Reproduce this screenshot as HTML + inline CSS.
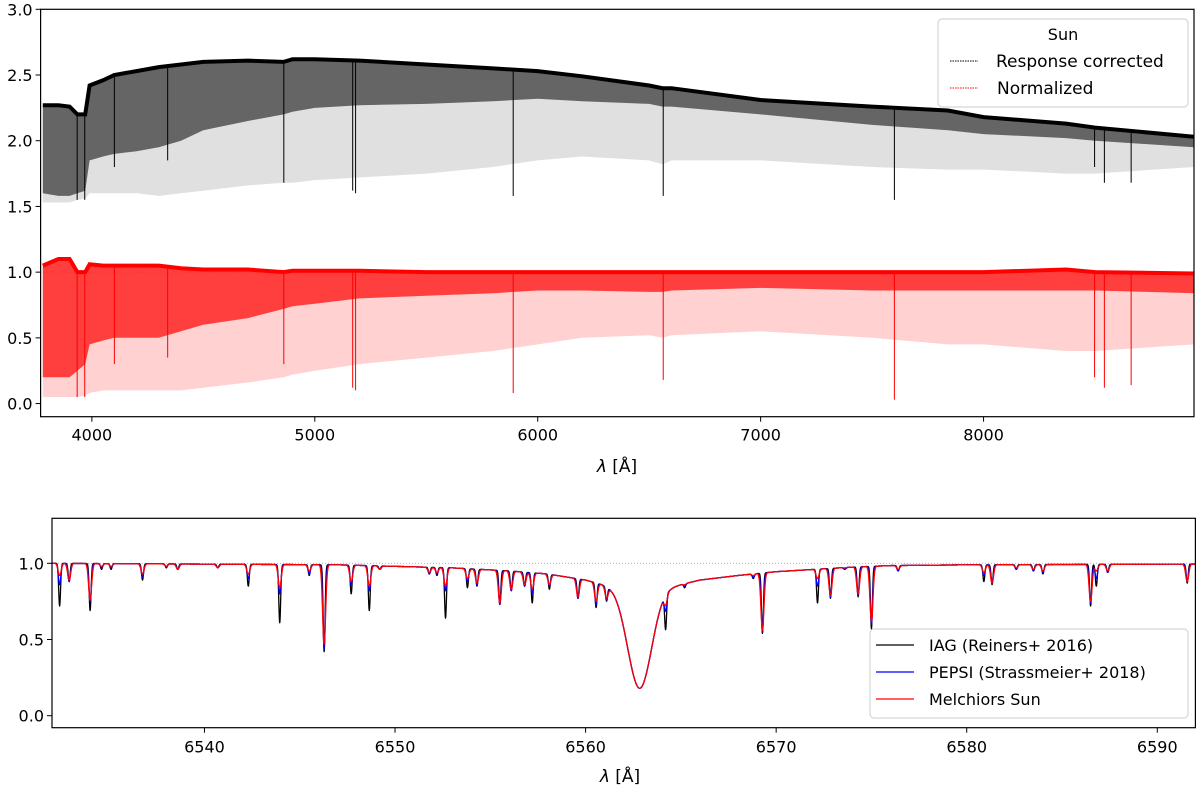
<!DOCTYPE html>
<html><head><meta charset="utf-8"><style>
html,body{margin:0;padding:0;background:#fff}
svg{display:block;font-family:"DejaVu Sans","Liberation Sans",sans-serif}
</style></head><body>
<svg id="fig" width="1200" height="787" viewBox="0 0 1200 787" xmlns="http://www.w3.org/2000/svg">
<rect width="1200" height="787" fill="#fff"/>
<g id="topPanel"></g>
<g id="botPanel"></g>
<text x="617" y="472" font-size="17" text-anchor="middle"><tspan font-style="italic">λ</tspan> [Å]</text>
<text x="620" y="782" font-size="17" text-anchor="middle"><tspan font-style="italic">λ</tspan> [Å]</text>
<g>
  <rect x="938" y="19" width="250" height="88" rx="4" fill="#fff" fill-opacity="0.85" stroke="#ccc"/>
  <text x="1063" y="40" font-size="16" text-anchor="middle">Sun</text>
  <line x1="950" y1="61" x2="978" y2="61" stroke="#000" stroke-width="1" stroke-dasharray="1.5,1"/>
  <text x="996" y="67" font-size="17">Response corrected</text>
  <line x1="950" y1="88" x2="978" y2="88" stroke="#f00" stroke-width="1" stroke-dasharray="1.5,1"/>
  <text x="997" y="94" font-size="17">Normalized</text>
</g>
<g>
  <rect x="870" y="629" width="318" height="89" rx="4" fill="#fff" fill-opacity="0.85" stroke="#ccc"/>
  <line x1="876" y1="645" x2="914" y2="645" stroke="#000" stroke-width="1.3"/>
  <text x="929" y="651" font-size="16">IAG (Reiners+ 2016)</text>
  <line x1="876" y1="672" x2="914" y2="672" stroke="#00f" stroke-width="1.3"/>
  <text x="929" y="678" font-size="16">PEPSI (Strassmeier+ 2018)</text>
  <line x1="876" y1="699" x2="914" y2="699" stroke="#f00" stroke-width="1.3"/>
  <text x="929" y="705" font-size="16">Melchiors Sun</text>
</g>
</svg>
<script>
// ---------- TOP PANEL DATA ----------
const topWl      = [3780,3850,3900,3935,3970,3990,4050,4100,4200,4300,4400,4500,4700,4860,4900,5000,5200,5500,5800,6000,6200,6500,6560,6600,7000,7500,7840,8000,8370,8500,8944];
const rcUpper    = [2.27,2.27,2.26,2.2,2.2,2.42,2.46,2.5,2.53,2.56,2.58,2.6,2.61,2.6,2.62,2.62,2.61,2.58,2.55,2.53,2.49,2.42,2.40,2.40,2.31,2.26,2.23,2.18,2.13,2.1,2.03];
const rcDense    = [1.6,1.58,1.58,1.6,1.62,1.85,1.88,1.9,1.92,1.95,2.0,2.08,2.15,2.2,2.22,2.25,2.27,2.28,2.3,2.32,2.3,2.28,2.26,2.26,2.2,2.12,2.08,2.05,2.02,2.0,1.95];
const rcSparse   = [1.53,1.53,1.53,1.55,1.56,1.6,1.6,1.6,1.6,1.58,1.6,1.62,1.66,1.68,1.68,1.7,1.72,1.75,1.8,1.85,1.88,1.85,1.82,1.85,1.85,1.8,1.78,1.78,1.75,1.75,1.8];
const nUpper     = [1.05,1.1,1.1,1.0,1.0,1.06,1.05,1.05,1.05,1.05,1.03,1.02,1.02,1.0,1.01,1.01,1.01,1.0,1.0,1.0,1.0,1.0,1.0,1.0,1.0,1.0,1.0,1.0,1.02,1.0,0.99];
const nDense     = [0.2,0.2,0.2,0.25,0.3,0.45,0.48,0.5,0.5,0.5,0.55,0.6,0.65,0.72,0.74,0.76,0.8,0.82,0.84,0.86,0.86,0.85,0.85,0.86,0.88,0.86,0.86,0.86,0.86,0.86,0.84];
const nSparse    = [0.05,0.05,0.05,0.05,0.06,0.08,0.1,0.1,0.1,0.1,0.1,0.12,0.16,0.2,0.22,0.25,0.3,0.35,0.4,0.45,0.5,0.52,0.5,0.52,0.55,0.5,0.45,0.45,0.4,0.4,0.45];
const deepWl     = [3934,3968,4101,4340,4861,5170,5183,5890,6563,7600,8498,8542,8662];
const deepRcMin  = [1.55,1.55,1.8,1.85,1.68,1.62,1.6,1.58,1.58,1.55,1.8,1.68,1.68];
const deepNMin   = [0.05,0.05,0.3,0.35,0.3,0.12,0.1,0.08,0.18,0.03,0.2,0.12,0.14];
const topXTicks  = [4000,5000,6000,7000,8000];
const topYTicks  = [0.0,0.5,1.0,1.5,2.0,2.5,3.0];

// ---------- BOTTOM PANEL DATA ----------
const lineCenters = [6532.4,6532.9,6534.0,6534.6,6535.1,6536.75,6538.0,6538.6,6540.7,6542.3,6543.95,6545.5,6546.28,6547.7,6548.65,6549.2,6551.8,6552.2,6552.65,6553.8,6554.3,6555.5,6556.1,6556.8,6557.2,6558.1,6559.6,6560.55,6561.1,6564.2,6565.2,6568.8,6569.28,6570.7,6572.17,6572.85,6573.6,6574.3,6575.0,6576.4,6580.9,6581.33,6582.6,6583.5,6584.0,6586.5,6586.8,6587.4,6591.57];
const iagMin      = [0.72,0.88,0.69,0.96,0.96,0.89,0.97,0.96,0.97,0.85,0.61,0.92,0.42,0.80,0.69,0.96,0.93,0.92,0.64,0.84,0.85,0.73,0.82,0.85,0.74,0.83,0.77,0.71,0.76,0.60,0.84,0.90,0.54,0.95,0.74,0.77,0.96,0.78,0.57,0.95,0.88,0.86,0.96,0.95,0.93,0.72,0.85,0.94,0.87];
const pepsiMin    = [0.86,0.88,0.75,0.97,0.97,0.91,0.98,0.96,0.97,0.90,0.80,0.93,0.44,0.86,0.82,0.96,0.93,0.93,0.82,0.88,0.86,0.73,0.82,0.85,0.80,0.85,0.77,0.73,0.77,0.73,0.85,0.91,0.55,0.95,0.85,0.78,0.96,0.79,0.60,0.95,0.92,0.87,0.96,0.95,0.94,0.74,0.90,0.94,0.88];
const melchMin    = [0.92,0.89,0.76,0.98,0.98,0.93,0.98,0.96,0.97,0.93,0.84,0.95,0.47,0.88,0.85,0.96,0.94,0.94,0.85,0.90,0.87,0.74,0.83,0.86,0.83,0.86,0.78,0.75,0.78,0.77,0.86,0.92,0.56,0.95,0.90,0.79,0.97,0.80,0.62,0.96,0.94,0.87,0.97,0.96,0.95,0.75,0.95,0.95,0.88];
const contWl      = [6532,6547,6550,6553,6556,6558,6560,6561.5,6562.2,6563.4,6564,6565,6566,6568,6570,6572,6574,6576,6580,6592];
const contVal     = [1.0,0.99,0.98,0.97,0.95,0.93,0.89,0.84,0.80,0.80,0.83,0.86,0.89,0.92,0.945,0.96,0.975,0.985,0.99,0.995];
const halphaCenter = [6562.84];
const halphaMin    = [0.18];
const botXTicks  = [6540,6550,6560,6570,6580,6590];
const botYTicks  = [0.0,0.5,1.0];

const NS='http://www.w3.org/2000/svg';
function mk(tag, attrs, parent){const e=document.createElementNS(NS,tag);for(const k in attrs)e.setAttribute(k,attrs[k]);parent.appendChild(e);return e;}
function interp(xs,ys,x){if(x<=xs[0])return ys[0];for(let i=1;i<xs.length;i++)if(x<=xs[i]){const t=(x-xs[i-1])/(xs[i]-xs[i-1]);return ys[i-1]+t*(ys[i]-ys[i-1]);}return ys[ys.length-1];}

// ---------- TOP ----------
const T={x0:40.6,x1:1194,y0:9.3,y1:416.7,xmin:3770,xmax:8944,ymin:-0.1,ymax:3.0};
const tx=v=>T.x0+(v-T.xmin)/(T.xmax-T.xmin)*(T.x1-T.x0);
const ty=v=>T.y1-(v-T.ymin)/(T.ymax-T.ymin)*(T.y1-T.y0);
const topG=document.getElementById('topPanel');
const clipT=mk('clipPath',{id:'ct'},topG);mk('rect',{x:T.x0,y:T.y0,width:T.x1-T.x0,height:T.y1-T.y0},clipT);
const gT=mk('g',{'clip-path':'url(#ct)'},topG);
mk('line',{x1:T.x0,x2:T.x1,y1:ty(1),y2:ty(1),stroke:'#bbb','stroke-width':0.8,'stroke-dasharray':'1,2'},gT);
function band(up,lo,color,op,name){
  let d='M'+topWl.map((w,i)=>tx(w).toFixed(1)+','+ty(up[i]).toFixed(1)).join('L');
  for(let i=topWl.length-1;i>=0;i--)d+='L'+tx(topWl[i]).toFixed(1)+','+ty(lo[i]).toFixed(1);
  const p=mk('path',{d:d+'Z',fill:color,'fill-opacity':op},gT);
  
  
}
function topLine(arr,color,name){
  const p=mk('polyline',{points:topWl.map((w,i)=>tx(w).toFixed(1)+','+ty(arr[i]).toFixed(1)).join(' '),fill:'none',stroke:color,'stroke-width':4},gT);
  
  
}
band(rcUpper,rcSparse,'#000',0.12,'response-corrected-sparse');
band(rcUpper,rcDense,'#000',0.55,'response-corrected-dense');
topLine(rcUpper,'#000','response-corrected-continuum');
band(nUpper,nSparse,'#f00',0.18,'normalized-sparse');
band(nUpper,nDense,'#f00',0.7,'normalized-dense');
topLine(nUpper,'#f00','normalized-continuum');
deepWl.forEach((w,i)=>{
  const a=mk('line',{x1:tx(w),x2:tx(w),y1:ty(interp(topWl,rcUpper,w)),y2:ty(deepRcMin[i]),stroke:'#000','stroke-width':1},gT);
  
  
  const b=mk('line',{x1:tx(w),x2:tx(w),y1:ty(interp(topWl,nUpper,w)),y2:ty(deepNMin[i]),stroke:'#f00','stroke-width':1},gT);
  
  
});
mk('rect',{x:T.x0,y:T.y0,width:T.x1-T.x0,height:T.y1-T.y0,fill:'none',stroke:'#000','stroke-width':1.2},topG);
topXTicks.forEach(v=>{
  mk('line',{x1:tx(v),x2:tx(v),y1:T.y1,y2:T.y1+5,stroke:'#000','stroke-width':1},topG);
  const t=mk('text',{x:tx(v),y:T.y1+24,'font-size':16,'text-anchor':'middle'},topG);t.textContent=v;
  
  
});
topYTicks.forEach(v=>{
  mk('line',{x1:T.x0-5,x2:T.x0,y1:ty(v),y2:ty(v),stroke:'#000','stroke-width':1},topG);
  const t=mk('text',{x:T.x0-8,y:ty(v)+6,'font-size':16,'text-anchor':'end'},topG);t.textContent=v.toFixed(1);
  
  
});

// ---------- BOTTOM ----------
const B={x0:52,x1:1195.4,y0:518.3,y1:727.7,xmin:6532,xmax:6592};
const byTop=563.3, byZero=715.7;
const bx=v=>B.x0+(v-B.xmin)/(B.xmax-B.xmin)*(B.x1-B.x0);
const by=v=>byZero-v*(byZero-byTop);
const botG=document.getElementById('botPanel');
const clipB=mk('clipPath',{id:'cb'},botG);mk('rect',{x:B.x0,y:B.y0,width:B.x1-B.x0,height:B.y1-B.y0},clipB);
const gB=mk('g',{'clip-path':'url(#cb)'},botG);
mk('line',{x1:B.x0,x2:B.x1,y1:by(1),y2:by(1),stroke:'#aaa','stroke-width':0.8,'stroke-dasharray':'1,2'},gB);
function spectrum(mins,sigma,color,name){
  const pts=[];
  const hc=interp(contWl,contVal,halphaCenter[0]);
  for(let w=B.xmin;w<=B.xmax+1e-9;w+=0.01){
    let f=interp(contWl,contVal,w);
    f*=1-(1-halphaMin[0]/hc)*Math.exp(-0.5*Math.pow((w-halphaCenter[0])/0.6,2));
    for(let i=0;i<lineCenters.length;i++){
      const dc=w-lineCenters[i]; if(Math.abs(dc)>0.6)continue;
      const c=interp(contWl,contVal,lineCenters[i]);
      const d=Math.max(0,1-mins[i]/c);
      f*=1-d*Math.exp(-0.5*Math.pow(dc/sigma,2));
    }
    pts.push(bx(w).toFixed(2)+','+by(f).toFixed(2));
  }
  const p=mk('polyline',{points:pts.join(' '),fill:'none',stroke:color,'stroke-width':1.3,'stroke-linejoin':'round'},gB);
  
  
}
spectrum(iagMin,0.05,'#000','iag-series');
spectrum(pepsiMin,0.065,'#0000ff','pepsi-series');
spectrum(melchMin,0.08,'#ff0000','melchiors-series');
mk('rect',{x:B.x0,y:B.y0,width:B.x1-B.x0,height:B.y1-B.y0,fill:'none',stroke:'#000','stroke-width':1.2},botG);
botXTicks.forEach(v=>{
  mk('line',{x1:bx(v),x2:bx(v),y1:B.y1,y2:B.y1+5,stroke:'#000','stroke-width':1},botG);
  const t=mk('text',{x:bx(v),y:B.y1+25,'font-size':16,'text-anchor':'middle'},botG);t.textContent=v;
  
  
});
botYTicks.forEach(v=>{
  mk('line',{x1:B.x0-5,x2:B.x0,y1:by(v),y2:by(v),stroke:'#000','stroke-width':1},botG);
  const t=mk('text',{x:B.x0-8,y:by(v)+6,'font-size':16,'text-anchor':'end'},botG);t.textContent=v.toFixed(1);
  
  
});
</script>
</body></html>
